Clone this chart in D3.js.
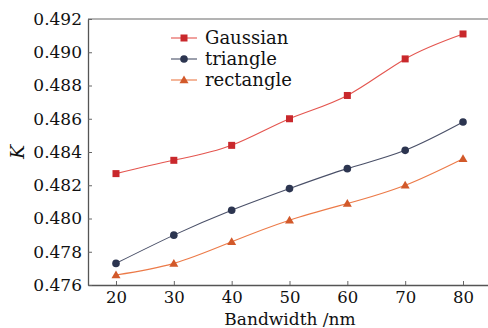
<!DOCTYPE html>
<html><head><meta charset="utf-8">
<script src="https://cdn.jsdelivr.net/npm/d3@7"></script>
<style>
html,body{margin:0;padding:0;background:#fff;}
svg{display:block;}
text{font-family:"DejaVu Serif",serif;}
</style></head>
<body>
<svg id="chart" width="488" height="328"></svg>
<script>
const bandwidth = [20, 30, 40, 50, 60, 70, 80];
const gaussian  = [0.4827, 0.4835, 0.4844, 0.4860, 0.4874, 0.4896, 0.4911];
const triangle  = [0.4773, 0.4790, 0.4805, 0.4818, 0.4830, 0.4841, 0.4858];
const rectangle = [0.4766, 0.4773, 0.4786, 0.4799, 0.4809, 0.4820, 0.4836];
const xTicks = [20, 30, 40, 50, 60, 70, 80];
const yTicks = [0.476, 0.478, 0.480, 0.482, 0.484, 0.486, 0.488, 0.490, 0.492];
const seriesNames = ["Gaussian", "triangle", "rectangle"];

const svg = d3.select("#chart");
const L = 88, R = 488, T = 19, B = 285;
const x = d3.scaleLinear().domain([15.16, 84.32]).range([L, R]);
const y = d3.scaleLinear().domain([0.476, 0.492]).range([B, T]);

const series = [
  {name: seriesNames[0], vals: gaussian, line: "#e4554f", fill: "#c9282c", shape: "square"},
  {name: seriesNames[1], vals: triangle, line: "#4a5068", fill: "#2c3550", shape: "circle"},
  {name: seriesNames[2], vals: rectangle, line: "#ec7a48", fill: "#d2592a", shape: "triangle"}
];

// top frame line
svg.append("line").attr("x1", L).attr("x2", R).attr("y1", T).attr("y2", T)
  .attr("stroke", "#9a9a9a").attr("stroke-width", 1.5);

const xAxis = svg.append("g").attr("transform", `translate(0,${B})`)
  .call(d3.axisBottom(x).tickValues(xTicks).tickFormat(d3.format("d")).tickSizeInner(-4).tickSizeOuter(0).tickPadding(6));
const yAxis = svg.append("g").attr("transform", `translate(${L},0)`)
  .call(d3.axisLeft(y).tickValues(yTicks).tickFormat(d3.format(".3f")).tickSizeInner(-4).tickSizeOuter(0).tickPadding(6));
[xAxis, yAxis].forEach(g => {
  g.select(".domain").attr("stroke", "#555").attr("stroke-width", 1.3);
  g.selectAll(".tick line").attr("stroke", "#666");
  g.selectAll(".tick text").attr("fill", "#111").style("font-size", "17px").style("font-family", "DejaVu Serif");
});
xAxis.selectAll(".tick text").style("font-size", "16.5px");

svg.append("text").attr("x", (L + R) / 2 + 2).attr("y", 325).attr("text-anchor", "middle")
  .style("font-size", "17px").attr("fill", "#111").text("Bandwidth /nm");
svg.append("text").attr("transform", "translate(24,152) rotate(-90)").attr("text-anchor", "middle")
  .style("font-size", "19px").style("font-style", "italic").attr("fill", "#111").text("K");

const lineGen = d3.line().x((d, i) => x(bandwidth[i])).y(d => y(d)).curve(d3.curveNatural);

function marker(g, shape, cx, cy, fill) {
  if (shape === "square") {
    g.append("rect").attr("x", cx - 3.5).attr("y", cy - 3.5).attr("width", 7).attr("height", 7).attr("fill", fill);
  } else if (shape === "circle") {
    g.append("circle").attr("cx", cx).attr("cy", cy).attr("r", 3.8).attr("fill", fill);
  } else {
    g.append("path").attr("d", `M${cx},${cy - 4.5}L${cx + 4.5},${cy + 3.3}L${cx - 4.5},${cy + 3.3}Z`).attr("fill", fill);
  }
}

series.forEach(s => {
  svg.append("path").attr("d", lineGen(s.vals)).attr("fill", "none").attr("stroke", s.line).attr("stroke-width", 1.1);
  const g = svg.append("g");
  s.vals.forEach((v, i) => marker(g, s.shape, x(bandwidth[i]), y(v), s.fill));
});

// legend
const legY = [38, 59, 80];
series.forEach((s, i) => {
  const g = svg.append("g");
  g.append("line").attr("x1", 171).attr("x2", 197).attr("y1", legY[i]).attr("y2", legY[i]).attr("stroke", s.line).attr("stroke-width", 1.1);
  marker(g, s.shape, 184, legY[i], s.fill);
  g.append("text").attr("x", 205).attr("y", legY[i] + 6).style("font-size", "18px").attr("fill", "#111").text(s.name);
});
</script>
</body></html>
